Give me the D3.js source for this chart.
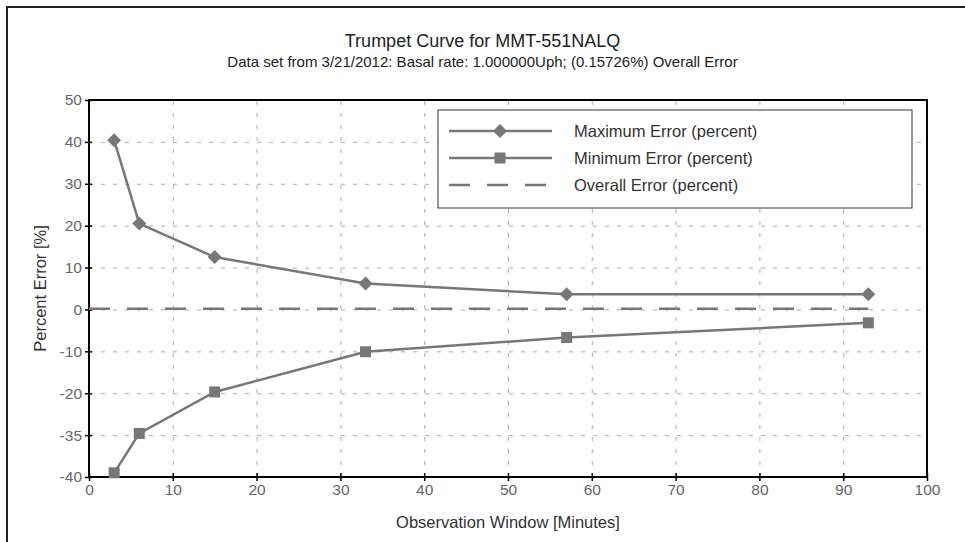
<!DOCTYPE html>
<html lang="en">
<head>
	<meta charset="utf-8">
	<title>Trumpet Curve for MMT-551NALQ</title>
	<script src="https://cdnjs.cloudflare.com/ajax/libs/d3/7.8.5/d3.min.js"></script>
	<style>
		body { margin: 0; background: #fff; }
		svg { display: block; font-family: "Liberation Sans", Arial, sans-serif; }
		.grid line { stroke: #aaa; stroke-width: 1; stroke-dasharray: 4,8; }
		.grid path { display: none; }
	</style>
</head>
<body>
<div id="chart"></div>
<script type="text/javascript">

	// Observation windows (minutes)
	var windowMinutes = [3, 6, 15, 33, 57, 93];
	// Maximum error per window (percent)
	var maxError = [40.4, 20.5, 12.5, 6.2, 3.6, 3.6];
	// Minimum error per window (percent)
	var minError = [-39.0, -29.6, -19.7, -10.1, -6.7, -3.2];
	// Overall error line
	var overallX = [0, 93];
	var overallError = [0.15726, 0.15726];

	// Axis ticks and their (as printed) labels
	var xTicks = [0, 10, 20, 30, 40, 50, 60, 70, 80, 90, 100];
	var yTicks = [-40, -30, -20, -10, 0, 10, 20, 30, 40, 50];
	var yTickLabels = ["-40", "-35", "-20", "-10", "0", "10", "20", "30", "40", "50"];

	var seriesNames = ["Maximum Error (percent)", "Minimum Error (percent)", "Overall Error (percent)"];

	var outer_width = 965;
	var outer_height = 542;
	var margin = {top: 100, right: 38, bottom: 65, left: 89};
	var width = outer_width - margin.left - margin.right;
	var height = outer_height - margin.top - margin.bottom;

	var lineColor = "#777";

	var svg = d3.select("#chart")
		.append("svg")
		.attr("width", outer_width)
		.attr("height", outer_height);

	// outer frame (runs off the right and bottom of the picture)
	svg.append("rect")
		.attr("x", 7).attr("y", 7)
		.attr("width", 1000).attr("height", 600)
		.attr("fill", "none")
		.attr("stroke", "#222")
		.attr("stroke-width", 2);

	// titles
	svg.append("text")
		.attr("x", outer_width / 2).attr("y", 47)
		.attr("text-anchor", "middle")
		.style("font-size", "18px").style("fill", "#222")
		.text("Trumpet Curve for MMT-551NALQ");
	svg.append("text")
		.attr("x", outer_width / 2).attr("y", 67)
		.attr("text-anchor", "middle")
		.style("font-size", "15px").style("fill", "#222")
		.text("Data set from 3/21/2012: Basal rate: 1.000000Uph; (0.15726%) Overall Error");

	var g = svg.append("g")
		.attr("transform", "translate(" + margin.left + "," + margin.top + ")");

	var xScale = d3.scaleLinear().domain([0, 100]).range([0, width]);
	var yScale = d3.scaleLinear().domain([-40, 50]).range([height, 0]);

	// grid lines
	g.append("g")
		.attr("class", "grid")
		.attr("transform", "translate(0," + height + ")")
		.call(d3.axisBottom(xScale).tickValues(xTicks.slice(1, -1)).tickSize(-height).tickFormat(""));
	g.append("g")
		.attr("class", "grid")
		.call(d3.axisLeft(yScale).tickValues(yTicks.slice(1, -1)).tickSize(-width).tickFormat(""));

	// plot border
	g.append("rect")
		.attr("width", width).attr("height", height)
		.attr("fill", "none")
		.attr("stroke", "#000")
		.attr("stroke-width", 2);

	// x axis with ticks crossing the line
	var xAxis = g.append("g")
		.attr("transform", "translate(0," + height + ")")
		.call(d3.axisBottom(xScale).tickValues(xTicks).tickSize(4).tickPadding(3));
	xAxis.select(".domain").remove();
	xAxis.selectAll(".tick line").attr("y1", -4).attr("stroke", "#000").attr("stroke-width", 1.5);
	xAxis.selectAll(".tick text").style("font-size", "15.5px").attr("fill", "#666");

	// y axis
	var yAxis = g.append("g")
		.call(d3.axisLeft(yScale).tickValues(yTicks).tickSize(4).tickPadding(3)
			.tickFormat(function(d, i) { return yTickLabels[i]; }));
	yAxis.select(".domain").remove();
	yAxis.selectAll(".tick line").attr("x1", 3).attr("x2", -4).attr("stroke", "#000").attr("stroke-width", 1.5);
	yAxis.selectAll(".tick text").style("font-size", "15.5px").attr("fill", "#666");

	// axis titles
	svg.append("text")
		.attr("x", margin.left + width / 2).attr("y", 528)
		.attr("text-anchor", "middle")
		.style("font-size", "16.5px").style("fill", "#333")
		.text("Observation Window [Minutes]");
	svg.append("text")
		.attr("transform", "translate(46," + (margin.top + height / 2) + ") rotate(-90)")
		.attr("text-anchor", "middle")
		.style("font-size", "16.5px").style("fill", "#333")
		.text("Percent Error [%]");

	var line = d3.line()
		.x(function(d) { return xScale(d[0]); })
		.y(function(d) { return yScale(d[1]); });

	var maxData = windowMinutes.map(function(x, i) { return [x, maxError[i]]; });
	var minData = windowMinutes.map(function(x, i) { return [x, minError[i]]; });
	var overallData = overallX.map(function(x, i) { return [x, overallError[i]]; });

	// overall error dashed line
	g.append("path")
		.datum(overallData)
		.attr("d", line)
		.attr("fill", "none")
		.attr("stroke", lineColor)
		.attr("stroke-width", 2.5)
		.attr("stroke-dasharray", "21,17");

	g.append("path")
		.datum(maxData)
		.attr("d", line)
		.attr("fill", "none")
		.attr("stroke", lineColor)
		.attr("stroke-width", 2.5);

	g.append("path")
		.datum(minData)
		.attr("d", line)
		.attr("fill", "none")
		.attr("stroke", lineColor)
		.attr("stroke-width", 2.5);

	// markers
	function diamond(cx, cy) {
		var r = 7;
		return "M" + cx + "," + (cy - r) + "L" + (cx + r) + "," + cy + "L" + cx + "," + (cy + r) + "L" + (cx - r) + "," + cy + "Z";
	}

	g.selectAll(".max-pt")
		.data(maxData)
		.enter().append("path")
		.attr("class", "max-pt")
		.attr("d", function(d) { return diamond(xScale(d[0]), yScale(d[1])); })
		.attr("fill", lineColor);

	g.selectAll(".min-pt")
		.data(minData)
		.enter().append("rect")
		.attr("class", "min-pt")
		.attr("x", function(d) { return xScale(d[0]) - 5.5; })
		.attr("y", function(d) { return yScale(d[1]) - 5.5; })
		.attr("width", 11).attr("height", 11)
		.attr("fill", lineColor);

	// legend
	var legend = svg.append("g").attr("transform", "translate(438,110)");
	legend.append("rect")
		.attr("width", 474).attr("height", 98)
		.attr("fill", "#fff")
		.attr("stroke", "#333")
		.attr("stroke-width", 1);

	var rowY = [21, 48, 75];
	seriesNames.forEach(function(name, i) {
		var row = legend.append("g").attr("transform", "translate(0," + rowY[i] + ")");
		row.append("line")
			.attr("x1", 11).attr("x2", 114)
			.attr("stroke", lineColor)
			.attr("stroke-width", 2.5)
			.attr("stroke-dasharray", i == 2 ? "21,17" : null);
		if (i == 0) {
			row.append("path").attr("d", diamond(62, 0)).attr("fill", lineColor);
		} else if (i == 1) {
			row.append("rect").attr("x", 56.5).attr("y", -5.5).attr("width", 11).attr("height", 11).attr("fill", lineColor);
		}
		row.append("text")
			.attr("x", 136).attr("y", 6)
			.style("font-size", "16.5px").style("fill", "#333")
			.text(name);
	});

</script>
</body>
</html>
